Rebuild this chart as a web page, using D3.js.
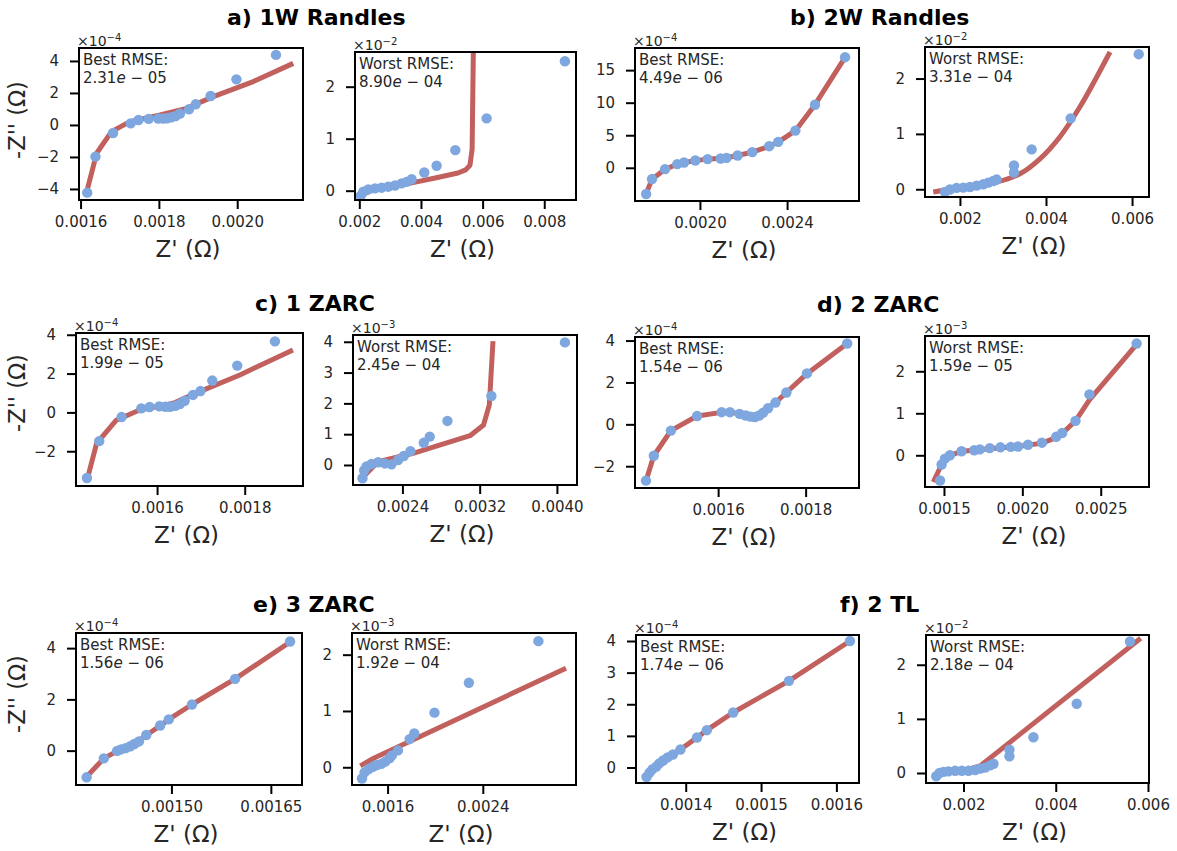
<!DOCTYPE html>
<html><head><meta charset="utf-8">
<script src="https://cdn.jsdelivr.net/npm/d3@7"></script>
<style>body{margin:0;background:#fff}</style>
</head><body><svg id="c" width="1177" height="851"></svg>
<script>
// ---------- DATA (Z' in ohm, -Z'' in units of 10^exp ohm) ----------
const titles = ["a) 1W Randles","b) 2W Randles","c) 1 ZARC","d) 2 ZARC","e) 3 ZARC","f) 2 TL"];

const a1_zr = [0.001617,0.001638,0.001683,0.001728,0.001748,0.001774,0.001798,0.001811,0.001821,0.001832,0.001843,0.001854,0.001877,0.001894,0.001932,0.001998,0.002099];
const a1_zi = [-4.23,-1.98,-0.50,0.10,0.31,0.38,0.40,0.40,0.42,0.48,0.56,0.71,0.98,1.29,1.81,2.85,4.38];
const a1_fit_zr = [0.001617,0.001641,0.001679,0.001726,0.001803,0.001871,0.001939,0.002041,0.002143];
const a1_fit_zi = [-4.06,-1.77,-0.42,0.21,0.63,1.04,1.77,2.71,3.85];

const a2_zr = [0.002043,0.00213,0.002292,0.002508,0.002724,0.00294,0.003157,0.003373,0.003535,0.003697,0.004108,0.004508,0.005114,0.00613,0.00867];
const a2_zi = [-0.10,-0.02,0.026,0.045,0.058,0.077,0.10,0.14,0.17,0.22,0.35,0.48,0.78,1.39,2.49];
const a2_fit_zr = [0.00203,0.0025,0.0031,0.0037,0.0045,0.0052,0.00545,0.00559,0.00566,0.0057];
const a2_fit_zi = [-0.09,0.03,0.08,0.15,0.25,0.34,0.40,0.49,0.80,2.70];

const b1_zr = [0.001753,0.00178,0.00184,0.001896,0.001927,0.001979,0.002035,0.002095,0.002122,0.002173,0.00224,0.002318,0.002359,0.002438,0.002528,0.002666];
const b1_zi = [-4.03,-1.73,-0.20,0.56,0.82,1.12,1.33,1.43,1.53,1.89,2.40,3.32,3.98,5.71,9.69,16.99];
const b1_fit_zr = [0.001753,0.00178,0.00184,0.001896,0.001927,0.001979,0.002035,0.002095,0.002122,0.002173,0.00224,0.002318,0.002359,0.002438,0.002528,0.002666];
const b1_fit_zi = [-4.00,-1.75,-0.22,0.55,0.82,1.10,1.33,1.45,1.55,1.88,2.40,3.30,3.95,5.70,9.70,16.95];

const b2_zr = [0.001651,0.001767,0.001922,0.002078,0.002233,0.002388,0.002543,0.002659,0.002775,0.002853,0.003256,0.003256,0.003667,0.004574,0.006155];
const b2_zi = [-0.05,-0.005,0.024,0.03,0.04,0.066,0.09,0.12,0.15,0.175,0.30,0.43,0.72,1.28,2.44];
const b2_fit_zr = [0.00138,0.002078,0.002853,0.003395,0.00386,0.004326,0.00479,0.005488];
const b2_fit_zi = [-0.05,0.04,0.13,0.28,0.55,0.95,1.49,2.48];

const c1_zr = [0.00144,0.001468,0.001519,0.001564,0.001583,0.001605,0.001619,0.00163,0.001642,0.001652,0.001663,0.001682,0.001699,0.001726,0.001783,0.001869];
const c1_zi = [-3.38,-1.48,-0.24,0.21,0.28,0.31,0.29,0.29,0.34,0.43,0.60,0.90,1.10,1.64,2.41,3.66];
const c1_fit_zr = [0.00144,0.001462,0.001507,0.00156,0.001637,0.001697,0.001789,0.00191];
const c1_fit_zi = [-3.5,-1.6,-0.4,0.12,0.47,1.07,1.93,3.22];

const c2_zr = [0.001986,0.002003,0.002028,0.002079,0.002148,0.002217,0.002286,0.002355,0.002414,0.002483,0.002621,0.002683,0.002866,0.003321,0.004083];
const c2_zi = [-0.43,-0.18,-0.05,0.03,0.09,0.05,0.02,0.16,0.29,0.45,0.72,0.92,1.43,2.24,3.98];
const c2_fit_zr = [0.00199,0.00215,0.00251,0.0031,0.00324,0.0033,0.003338];
const c2_fit_zi = [-0.40,0.11,0.38,0.95,1.30,1.95,4.02];

const d1_zr = [0.001435,0.001453,0.001492,0.001552,0.001608,0.001627,0.001649,0.001663,0.001674,0.001684,0.001694,0.001703,0.001714,0.001731,0.001756,0.001803,0.001895];
const d1_zi = [-2.69,-1.50,-0.30,0.40,0.58,0.58,0.50,0.42,0.37,0.35,0.42,0.56,0.77,1.04,1.52,2.43,3.86];
const d1_fit_zr = [0.001435,0.001453,0.001492,0.001552,0.001608,0.001627,0.001649,0.001663,0.001674,0.001684,0.001694,0.001703,0.001714,0.001731,0.001756,0.001803,0.001895];
const d1_fit_zi = [-2.70,-1.50,-0.30,0.40,0.57,0.58,0.51,0.43,0.38,0.36,0.42,0.56,0.76,1.04,1.52,2.42,3.86];

const d2_zr = [0.001475,0.001485,0.001506,0.001538,0.001612,0.001693,0.001729,0.001792,0.00186,0.001926,0.001972,0.002036,0.002125,0.002216,0.002254,0.002339,0.002428,0.002729];
const d2_zi = [-0.60,-0.22,-0.08,0.0,0.095,0.12,0.14,0.17,0.19,0.20,0.21,0.25,0.30,0.44,0.53,0.82,1.45,2.66];
const d2_fit_zr = [0.001432,0.001485,0.001506,0.001538,0.001612,0.001693,0.00186,0.001972,0.002125,0.002216,0.002254,0.002339,0.002428,0.002729];
const d2_fit_zi = [-0.635,-0.22,-0.08,0.0,0.095,0.12,0.18,0.21,0.29,0.42,0.52,0.82,1.32,2.64];

const e1_zr = [0.001372,0.001398,0.001418,0.001424,0.001431,0.001438,0.001444,0.001451,0.001462,0.001483,0.001496,0.001531,0.001596,0.001679];
const e1_zi = [-1.04,-0.30,-0.01,0.05,0.10,0.17,0.26,0.36,0.61,0.98,1.22,1.80,2.80,4.26];
const e1_fit_zr = [0.001372,0.001398,0.001418,0.001431,0.001444,0.001462,0.001483,0.001496,0.001531,0.001596,0.001679];
const e1_fit_zi = [-1.02,-0.30,-0.02,0.10,0.26,0.60,0.97,1.22,1.80,2.80,4.24];

const e2_zr = [0.001385,0.001407,0.001441,0.001477,0.00151,0.001547,0.00158,0.001617,0.001636,0.001687,0.001785,0.001824,0.001994,0.002283,0.002867];
const e2_zi = [-0.20,-0.09,-0.03,0.01,0.04,0.06,0.10,0.16,0.21,0.30,0.50,0.60,0.97,1.50,2.24];
const e2_fit_zr = [0.001371,0.001483,0.003099];
const e2_fit_zi = [0.024,0.16,1.76];

const f1_zr = [0.001348,0.001352,0.001356,0.001361,0.001365,0.00137,0.001376,0.001383,0.001393,0.001415,0.001428,0.001463,0.001537,0.001618];
const f1_zi = [-0.30,-0.16,-0.05,0.03,0.13,0.22,0.32,0.41,0.57,0.95,1.18,1.74,2.74,4.00];
const f1_fit_zr = [0.001348,0.001361,0.001376,0.001393,0.001415,0.001428,0.001463,0.001537,0.001618];
const f1_fit_zi = [-0.30,0.03,0.32,0.57,0.95,1.18,1.74,2.74,4.00];

const f2_zr = [0.001408,0.00148,0.001567,0.001675,0.00182,0.001964,0.002108,0.002253,0.002361,0.002469,0.002578,0.00265,0.002996,0.002996,0.003516,0.004455,0.00561];
const f2_zi = [-0.06,0.0,0.02,0.03,0.04,0.04,0.04,0.055,0.08,0.10,0.14,0.17,0.31,0.43,0.66,1.28,2.43];
const f2_fit_zr = [0.00135,0.001639,0.002072,0.002361,0.005841];
const f2_fit_zi = [-0.06,0.01,0.06,0.13,2.49];

// tick values & labels
const xt_a1 = [0.0016,0.0018,0.0020], xl_a1 = ["0.0016","0.0018","0.0020"];
const xt_a2 = [0.002,0.004,0.006,0.008], xl_a2 = ["0.002","0.004","0.006","0.008"];
const xt_b1 = [0.0020,0.0024], xl_b1 = ["0.0020","0.0024"];
const xt_b2 = [0.002,0.004,0.006], xl_b2 = ["0.002","0.004","0.006"];
const xt_c1 = [0.0016,0.0018], xl_c1 = ["0.0016","0.0018"];
const xt_c2 = [0.0024,0.0032,0.0040], xl_c2 = ["0.0024","0.0032","0.0040"];
const xt_d1 = [0.0016,0.0018], xl_d1 = ["0.0016","0.0018"];
const xt_d2 = [0.0015,0.0020,0.0025], xl_d2 = ["0.0015","0.0020","0.0025"];
const xt_e1 = [0.00150,0.00165], xl_e1 = ["0.00150","0.00165"];
const xt_e2 = [0.0016,0.0024], xl_e2 = ["0.0016","0.0024"];
const xt_f1 = [0.0014,0.0015,0.0016], xl_f1 = ["0.0014","0.0015","0.0016"];
const xt_f2 = [0.002,0.004,0.006], xl_f2 = ["0.002","0.004","0.006"];
const yt_a1 = [4,2,0,-2,-4], yt_a2 = [2,1,0], yt_b1 = [15,10,5,0], yt_b2 = [2,1,0];
const yt_c1 = [4,2,0,-2], yt_c2 = [4,3,2,1,0], yt_d1 = [4,2,0,-2], yt_d2 = [2,1,0];
const yt_e1 = [4,2,0], yt_e2 = [2,1,0], yt_f1 = [4,3,2,1,0], yt_f2 = [2,1,0];
const exps = ["−4","−2","−4","−2","−4","−3","−4","−3","−4","−3","−4","−2"];
const rmseKind = ["Best","Worst","Best","Worst","Best","Worst","Best","Worst","Best","Worst","Best","Worst"];
const rmseMant = ["2.31","8.90","4.49","3.31","1.99","2.45","1.54","1.59","1.56","1.92","1.74","2.18"];
const rmseExp  = ["05","04","06","04","05","04","06","05","06","04","06","04"];

// ---------- LAYOUT ----------
const PT = "#7ea6df", LN = "#c1605d", TXT = "#262626";
const FONT = "'DejaVu Sans', sans-serif";
const panels = [
 {box:[79,48,303,200],  xd:[0.001596,0.002168], yd:[-4.69,4.81],  xt:xt_a1, xl:xl_a1, yt:yt_a1, px:a1_zr, py:a1_zi, lx:a1_fit_zr, ly:a1_fit_zi, ylab:120},
 {box:[355,52,576,200], xd:[0.00186,0.00903],   yd:[-0.179,2.667],xt:xt_a2, xl:xl_a2, yt:yt_a2, px:a2_zr, py:a2_zi, lx:a2_fit_zr, ly:a2_fit_zi},
 {box:[635,48,859,201], xd:[0.001702,0.00273],  yd:[-5.1,18.4],   xt:xt_b1, xl:xl_b1, yt:yt_b1, px:b1_zr, py:b1_zi, lx:b1_fit_zr, ly:b1_fit_zi},
 {box:[925,47,1149,197],xd:[0.001188,0.006394], yd:[-0.14,2.57],  xt:xt_b2, xl:xl_b2, yt:yt_b2, px:b2_zr, py:b2_zi, lx:b2_fit_zr, ly:b2_fit_zi, smooth:true},
 {box:[76,333,303,486], xd:[0.001415,0.001933], yd:[-3.79,4.09],  xt:xt_c1, xl:xl_c1, yt:yt_c1, px:c1_zr, py:c1_zi, lx:c1_fit_zr, ly:c1_fit_zi, ylab:393},
 {box:[353,335,577,485],xd:[0.001888,0.004208], yd:[-0.65,4.22],  xt:xt_c2, xl:xl_c2, yt:yt_c2, px:c2_zr, py:c2_zi, lx:c2_fit_zr, ly:c2_fit_zi},
 {box:[635,337,859,488],xd:[0.00141,0.001922],  yd:[-3.04,4.17],  xt:xt_d1, xl:xl_d1, yt:yt_d1, px:d1_zr, py:d1_zi, lx:d1_fit_zr, ly:d1_fit_zi},
 {box:[925,336,1149,487],xd:[0.001379,0.002808],yd:[-0.755,2.84], xt:xt_d2, xl:xl_d2, yt:yt_d2, px:d2_zr, py:d2_zi, lx:d2_fit_zr, ly:d2_fit_zi},
 {box:[76,633,302,785], xd:[0.001356,0.001697], yd:[-1.34,4.59],  xt:xt_e1, xl:xl_e1, yt:yt_e1, px:e1_zr, py:e1_zi, lx:e1_fit_zr, ly:e1_fit_zi, ylab:694},
 {box:[352,633,576,785],xd:[0.001301,0.003183], yd:[-0.315,2.385],xt:xt_e2, xl:xl_e2, yt:yt_e2, px:e2_zr, py:e2_zi, lx:e2_fit_zr, ly:e2_fit_zi},
 {box:[636,635,859,783],xd:[0.001334,0.00163],  yd:[-0.49,4.19],  xt:xt_f1, xl:xl_f1, yt:yt_f1, px:f1_zr, py:f1_zi, lx:f1_fit_zr, ly:f1_fit_zi},
 {box:[926,635,1149,783],xd:[0.001187,0.006022],yd:[-0.185,2.55], xt:xt_f2, xl:xl_f2, yt:yt_f2, px:f2_zr, py:f2_zi, lx:f2_fit_zr, ly:f2_fit_zi}
];
const titlePos = [[227,25],[790,25],[255,311],[817,312],[253,612],[840,612]];

const svg = d3.select("#c");
svg.append("rect").attr("width",1177).attr("height",851).attr("fill","#fff");
const defs = svg.append("defs");

titles.forEach((t,i)=>{
  svg.append("text").attr("x",titlePos[i][0]).attr("y",titlePos[i][1])
    .attr("font-family","'DejaVu Sans', sans-serif").attr("font-weight","bold")
    .attr("font-size",22).attr("fill","#000").text(t);
});

const fmtY = d => d < 0 ? "−" + (-d) : String(d);

panels.forEach((p,i)=>{
  const [L,T,R,B] = p.box;
  const x = d3.scaleLinear().domain(p.xd).range([L,R]);
  const y = d3.scaleLinear().domain(p.yd).range([B,T]);
  const g = svg.append("g");
  const cid = "clip"+i;
  defs.append("clipPath").attr("id",cid).append("rect").attr("x",L).attr("y",T).attr("width",R-L).attr("height",B-T);

  // fit line
  const line = d3.line().x(d=>x(d[0])).y(d=>y(d[1]))
     .curve(p.smooth ? d3.curveCatmullRom.alpha(0.5) : d3.curveLinear);
  const ldata = p.lx.map((v,k)=>[v,p.ly[k]]);
  g.append("path").attr("clip-path",`url(#${cid})`).attr("d",line(ldata))
    .attr("fill","none").attr("stroke",LN).attr("stroke-width",5)
    .attr("stroke-linejoin","round").attr("stroke-linecap","butt");

  // points
  g.append("g").selectAll("circle").data(p.px.map((v,k)=>[v,p.py[k]])).join("circle")
    .attr("cx",d=>x(d[0])).attr("cy",d=>y(d[1])).attr("r",5.2).attr("fill",PT);

  // axes
  const xa = d3.axisBottom(x).tickValues(p.xt).tickFormat((d,k)=>p.xl[k]).tickSize(9).tickPadding(7);
  const ya = d3.axisLeft(y).tickValues(p.yt).tickFormat(fmtY).tickSize(9).tickPadding(11);
  const gx = g.append("g").attr("transform",`translate(0,${B})`).call(xa);
  const gy = g.append("g").attr("transform",`translate(${L},0)`).call(ya);
  [gx,gy].forEach(a=>{
    a.select(".domain").remove();
    a.selectAll(".tick line").attr("stroke","#000").attr("stroke-width",2);
    a.selectAll(".tick text").attr("font-family",FONT).attr("font-size",15).attr("fill",TXT);
  });

  // frame
  g.append("rect").attr("x",L).attr("y",T).attr("width",R-L).attr("height",B-T)
    .attr("fill","none").attr("stroke","#000").attr("stroke-width",2);

  // offset text
  const ot = g.append("text").attr("x",L-2).attr("y",T-2).attr("font-family",FONT).attr("font-size",14).attr("fill",TXT);
  ot.append("tspan").text("×10");
  ot.append("tspan").attr("font-size",10).attr("dy",-5).text(exps[i]);

  // RMSE annotation
  g.append("text").attr("x",L+4).attr("y",T+17).attr("font-family",FONT).attr("font-size",15).attr("fill",TXT)
    .text(rmseKind[i]+" RMSE:");
  const r2 = g.append("text").attr("x",L+4).attr("y",T+35).attr("font-family",FONT).attr("font-size",15).attr("fill",TXT);
  r2.append("tspan").text(rmseMant[i]);
  r2.append("tspan").attr("font-style","italic").text("e");
  r2.append("tspan").text(" − "+rmseExp[i]);

  // x label
  g.append("text").attr("x",(L+R)/2-3).attr("y",B+57).attr("text-anchor","middle")
    .attr("font-family",FONT).attr("font-size",23).attr("fill",TXT).text("Z' (Ω)");
  if (p.ylab) {
    g.append("text").attr("transform",`translate(25,${p.ylab}) rotate(-90)`).attr("text-anchor","middle")
      .attr("font-family",FONT).attr("font-size",22.5).attr("fill",TXT).text("-Z'' (Ω)");
  }
});
</script></body></html>
